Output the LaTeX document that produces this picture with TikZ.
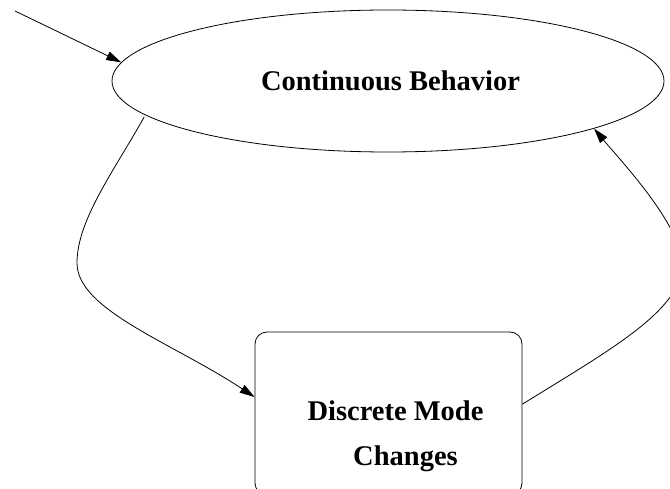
\documentclass[tikz,border=0pt]{standalone}
\usepackage{fontspec}
\setmainfont{Liberation Serif}
\usetikzlibrary{shapes.geometric,arrows.meta}
\tikzset{
  edge/.style={line width=0.8pt,-{Triangle[length=15pt,width=9pt]}},
  lbl/.style={font=\fontsize{28.5}{34}\selectfont\bfseries,inner sep=0pt,anchor=base}
}
\begin{document}
\begin{tikzpicture}[x=1pt,y=-1pt]
\useasboundingbox (0,0) rectangle (670,489);
\clip (0,0) rectangle (670,489);
\node[draw,line width=0.8pt,ellipse,minimum width=552pt,minimum height=142pt,inner sep=0pt] (cb) at (388,81) {};
\node[draw,line width=0.8pt,rectangle,rounded corners=12pt,minimum width=267pt,minimum height=163pt,inner sep=0pt] (dm) at (388.5,413.5) {};
\node[lbl] (t1) at (390.5,91) {Continuous Behavior};
\node[lbl] (t2) at (395.5,420) {Discrete Mode};
\node[lbl] (t3) at (405.5,465) {Changes};
\coordinate (in) at (15,11);
\coordinate (lft) at (77,263);
\coordinate (rgt) at (682,265);
\draw[edge] (in) -- (cb.176);
\draw[edge,shorten <=2pt] (cb.188) .. controls (114,171) and (77,220) .. (lft)
  .. controls (77,310) and (173,343) .. (dm.173.4);
\draw[edge] (dm.4.9) .. controls (610,350) and (682,310) .. (rgt)
  .. controls (682,225) and (620,160) .. (cb.347);
\end{tikzpicture}
\end{document}
